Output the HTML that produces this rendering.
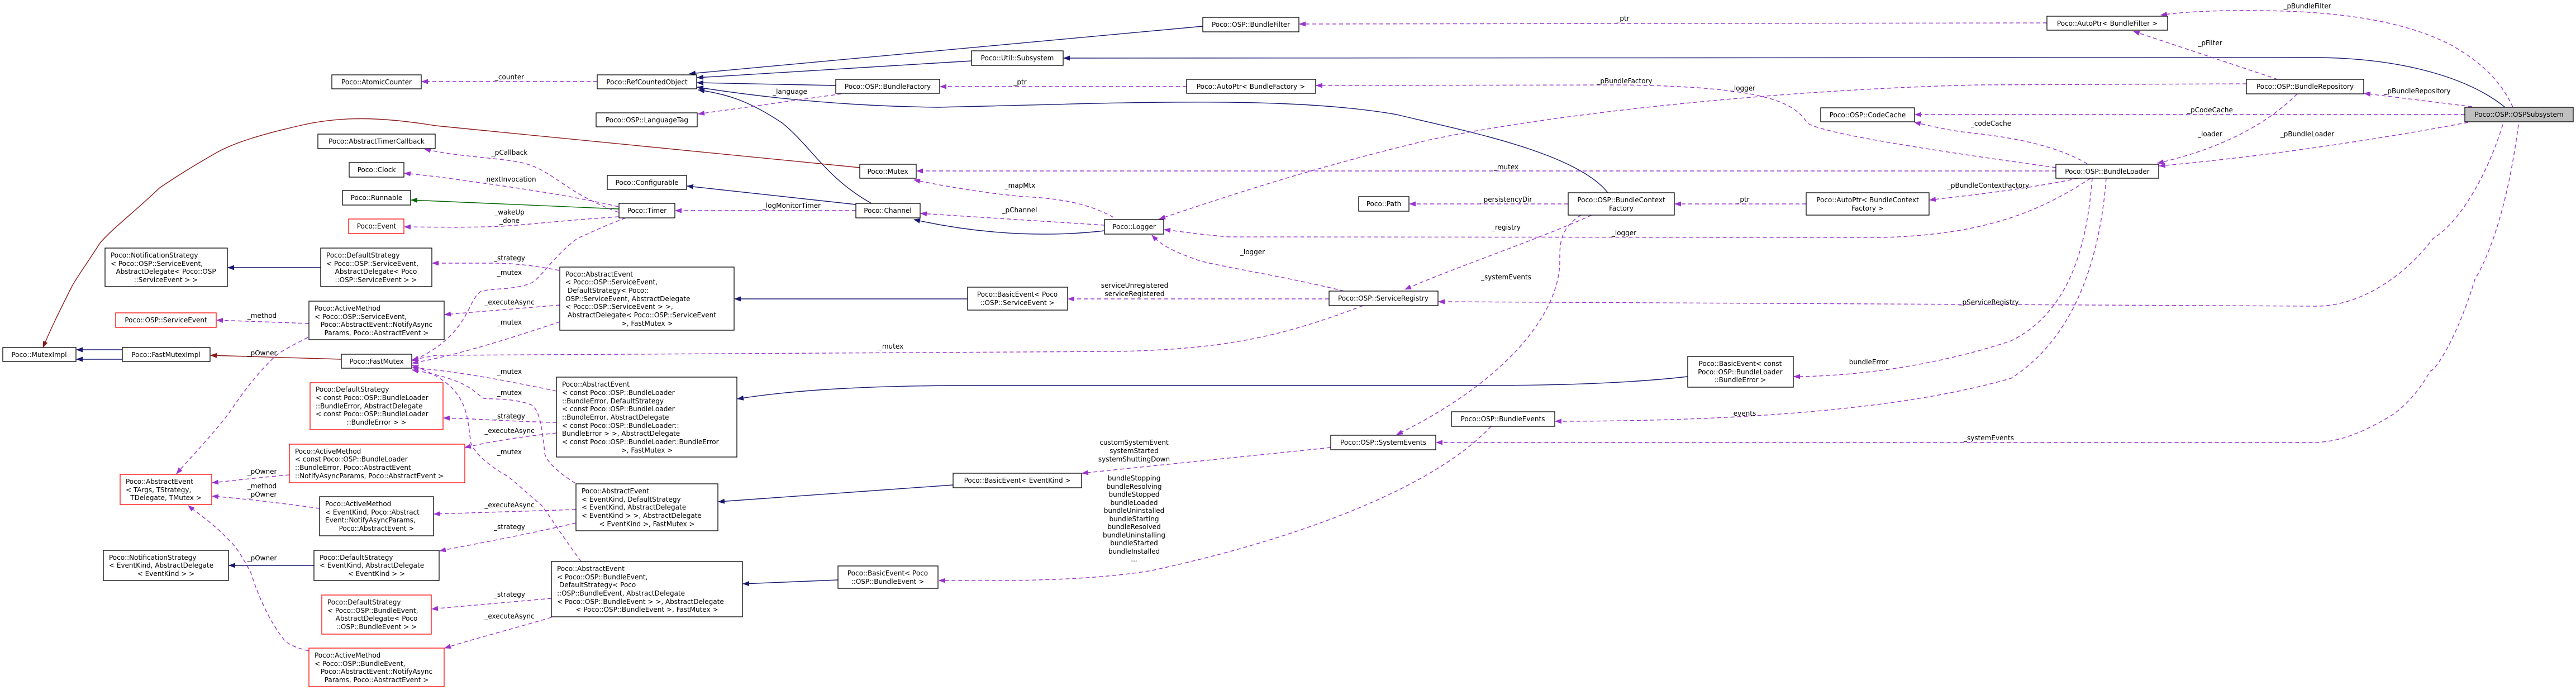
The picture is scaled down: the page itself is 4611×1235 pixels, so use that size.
<!DOCTYPE html>
<html><head><meta charset="utf-8">
<style>
html,body{margin:0;padding:0;background:#fff;}
svg{display:block;}
text{font-family:"DejaVu Sans","Liberation Sans",sans-serif;font-size:12px;fill:#000;}
.b{fill:#fff;stroke:#000;stroke-width:1.3;}
.r{fill:#fff;stroke:#ff0000;stroke-width:1.3;}
.g{fill:#bfbfbf;stroke:#000;stroke-width:1.3;}
.n{fill:none;stroke:#191970;stroke-width:1.4;}
.d{fill:none;stroke:#9a32cd;stroke-width:1.4;stroke-dasharray:7,5;}
.f{fill:none;stroke:#8b1a1a;stroke-width:1.4;}
.gr{fill:none;stroke:#006400;stroke-width:1.4;}
.m{text-anchor:middle;}
</style></head><body>
<svg width="4611" height="1235" viewBox="0 0 4611 1235" xmlns="http://www.w3.org/2000/svg">
<defs>
<marker id="an" markerWidth="12" markerHeight="9" refX="11" refY="4.5" orient="auto" markerUnits="userSpaceOnUse"><path d="M0,0 L12,4.5 L0,9 z" fill="#191970"/></marker>
<marker id="ap" markerWidth="12" markerHeight="9" refX="11" refY="4.5" orient="auto" markerUnits="userSpaceOnUse"><path d="M0,0 L12,4.5 L0,9 z" fill="#9a32cd"/></marker>
<marker id="ar" markerWidth="12" markerHeight="9" refX="11" refY="4.5" orient="auto" markerUnits="userSpaceOnUse"><path d="M0,0 L12,4.5 L0,9 z" fill="#8b1a1a"/></marker>
<marker id="ag" markerWidth="12" markerHeight="9" refX="11" refY="4.5" orient="auto" markerUnits="userSpaceOnUse"><path d="M0,0 L12,4.5 L0,9 z" fill="#006400"/></marker>
</defs>

<path class="n" marker-end="url(#an)" d="M2153,47 L1234,132"/>
<path class="n" marker-end="url(#an)" d="M1739,109 L1248,139"/>
<path class="n" marker-end="url(#an)" d="M1496,153 L1248,148"/>
<path class="n" marker-end="url(#an)" d="M2878,345 C2820,270 2600,230 2500,205 C2300,170 2000,185 1680,192 C1500,190 1350,172 1248,156"/>
<path class="n" marker-end="url(#an)" d="M1560,364 C1480,320 1450,260 1400,220 C1340,180 1300,168 1250,161"/>
<path class="n" marker-end="url(#an)" d="M1532,366 L1230,333"/>
<path class="n" marker-end="url(#an)" d="M1977,413 C1900,422 1780,425 1636,393"/>
<path class="n" marker-end="url(#an)" d="M4484,192 C4420,140 4300,103 4140,103 L1904,104"/>
<path class="n" marker-end="url(#an)" d="M1732,535 L1315,535"/>
<path class="n" marker-end="url(#an)" d="M1706,868 L1286,898"/>
<path class="n" marker-end="url(#an)" d="M3021,674 C2900,688 2750,690 2650,690 L1750,690 C1550,690 1420,698 1320,714"/>
<path class="n" marker-end="url(#an)" d="M1500,1038 L1330,1045"/>
<path class="n" marker-end="url(#an)" d="M574,479 L408,479"/>
<path class="n" marker-end="url(#an)" d="M562,1012 L410,1012"/>
<path class="n" marker-end="url(#an)" d="M219,626 L137,626"/>
<path class="n" marker-end="url(#an)" d="M219,643 L137,643"/>
<path class="gr" marker-end="url(#ag)" d="M1108,374 L736,358"/>
<path class="f" marker-end="url(#ar)" d="M1539,300 L780,225 C700,212 620,205 536,225 C470,240 420,255 388,273 C340,300 310,320 286,336 C240,380 200,410 179,435 C150,480 135,500 128,514 C105,560 90,590 77,622"/>
<path class="f" marker-end="url(#ar)" d="M611,643 L377,636"/>

<path class="d" marker-end="url(#ap)" d="M1069,146 L755,146"/>
<path class="d" marker-end="url(#ap)" d="M1506,168 L1250,204"/>
<path class="d" marker-end="url(#ap)" d="M2124,155 L1683,155"/>
<path class="d" marker-end="url(#ap)" d="M3664,41 L2326,43"/>
<path class="d" marker-end="url(#ap)" d="M1107,380 C1000,340 990,300 923,289 C880,282 820,280 760,267"/>
<path class="d" marker-end="url(#ap)" d="M1107,370 C1000,345 880,330 780,316 L724,310"/>
<path class="d" marker-end="url(#ap)" d="M1107,388 C1000,395 950,402 895,405 C860,407 800,407 724,406"/>
<path class="d" marker-end="url(#ap)" d="M1993,389 C1950,365 1900,355 1832,352 C1760,345 1700,335 1636,322"/>
<path class="d" marker-end="url(#ap)" d="M1977,403 L1648,382"/>
<path class="d" marker-end="url(#ap)" d="M1532,377 L1209,377"/>
<path class="d" marker-end="url(#ap)" d="M2406,521 C2300,495 2200,480 2148,467 C2100,450 2080,440 2062,421"/>
<path class="d" marker-end="url(#ap)" d="M3742,319 C3650,380 3550,420 3370,425 L2200,424 C2150,420 2110,414 2084,411"/>
<path class="d" marker-end="url(#ap)" d="M4021,150 L3540,152 C3200,160 2800,200 2560,250 C2350,300 2200,350 2075,392"/>
<path class="d" marker-end="url(#ap)" d="M3680,300 C3500,275 3260,240 3235,220 C3210,180 3150,155 2900,152 L2356,153"/>
<path class="d" marker-end="url(#ap)" d="M3736,293 C3680,260 3600,245 3520,237 C3480,232 3460,226 3427,219"/>
<path class="d" marker-end="url(#ap)" d="M4412,205 L3428,205"/>
<path class="d" marker-end="url(#ap)" d="M3680,306 L1641,306"/>
<path class="d" marker-end="url(#ap)" d="M2807,365 L2523,365"/>
<path class="d" marker-end="url(#ap)" d="M3233,365 L2998,365"/>
<path class="d" marker-end="url(#ap)" d="M3720,319 C3620,340 3520,350 3454,358"/>
<path class="d" marker-end="url(#ap)" d="M2849,385 C2750,430 2600,480 2515,518"/>
<path class="d" marker-end="url(#ap)" d="M2830,385 C2790,410 2792,440 2792,470 C2790,560 2700,680 2500,778"/>
<path class="d" marker-end="url(#ap)" d="M4480,223 C4450,320 4400,400 4355,427 C4300,500 4220,548 4146,548 L2575,540"/>
<path class="d" marker-end="url(#ap)" d="M4508,223 C4490,360 4460,450 4430,500 C4400,600 4360,664 4350,664 C4320,720 4280,744 4280,744 C4220,780 4180,792 4138,792 L2571,792"/>
<path class="d" marker-end="url(#ap)" d="M3745,319 C3735,450 3700,560 3600,610 C3450,660 3300,674 3211,674"/>
<path class="d" marker-end="url(#ap)" d="M3770,319 C3760,450 3720,600 3600,677 C3400,735 3100,754 2784,754"/>
<path class="d" marker-end="url(#ap)" d="M4498,192 C4470,130 4420,100 4390,82 C4320,45 4216,20 4042,19 C3960,18 3900,22 3868,27"/>
<path class="d" marker-end="url(#ap)" d="M4077,142 L3819,56"/>
<path class="d" marker-end="url(#ap)" d="M4425,191 L4232,167"/>
<path class="d" marker-end="url(#ap)" d="M4112,168 C4050,230 3960,270 3862,292"/>
<path class="d" marker-end="url(#ap)" d="M4418,219 C4200,260 4000,285 3865,297"/>
<path class="d" marker-end="url(#ap)" d="M2379,535 L1912,535"/>
<path class="d" marker-end="url(#ap)" d="M2382,801 C2200,820 2050,835 1937,847"/>
<path class="d" marker-end="url(#ap)" d="M2669,763 C2560,880 2300,970 2062,1021 C1950,1040 1800,1040 1681,1039"/>
<path class="d" marker-end="url(#ap)" d="M1001,484 C960,476 920,471 883,471 L774,471"/>
<path class="d" marker-end="url(#ap)" d="M1002,546 L796,563"/>
<path class="d" marker-end="url(#ap)" d="M1002,576 C900,610 820,635 738,650"/>
<path class="d" marker-end="url(#ap)" d="M1120,390 C1080,405 1060,415 1033,427 C990,460 970,495 952,506 C920,520 880,515 860,522 C835,540 840,600 738,646"/>
<path class="d" marker-end="url(#ap)" d="M2440,547 C2300,600 2200,625 2000,629 L780,636 L738,644"/>
<path class="d" marker-end="url(#ap)" d="M996,700 C900,680 820,665 738,658"/>
<path class="d" marker-end="url(#ap)" d="M1030,865 C990,840 975,820 975,810 C970,760 965,735 952,725 C920,712 880,715 866,713 C845,700 840,680 738,662"/>
<path class="d" marker-end="url(#ap)" d="M1040,1005 C1000,950 985,925 969,904 C940,880 920,860 906,851 C870,830 850,810 843,794 C835,740 840,690 738,654"/>
<path class="d" marker-end="url(#ap)" d="M996,756 C930,755 860,750 794,748"/>
<path class="d" marker-end="url(#ap)" d="M996,775 C930,782 880,790 832,801"/>
<path class="d" marker-end="url(#ap)" d="M1031,912 L777,920"/>
<path class="d" marker-end="url(#ap)" d="M1031,936 C950,955 870,970 787,986"/>
<path class="d" marker-end="url(#ap)" d="M987,1071 L773,1090"/>
<path class="d" marker-end="url(#ap)" d="M987,1105 C920,1125 860,1140 796,1160"/>
<path class="d" marker-end="url(#ap)" d="M553,579 L388,573"/>
<path class="d" marker-end="url(#ap)" d="M551,604 C520,620 500,630 490,640 C450,680 430,710 408,742 C370,790 340,820 316,848"/>
<path class="d" marker-end="url(#ap)" d="M518,850 C460,855 420,860 380,864"/>
<path class="d" marker-end="url(#ap)" d="M572,910 C500,900 440,893 380,888"/>
<path class="d" marker-end="url(#ap)" d="M553,1165 C530,1160 515,1152 510,1147 C480,1110 460,1060 449,1025 C430,990 420,975 408,965 C380,935 355,920 337,905"/>

<text x="912" y="142" class="m">_counter</text>
<text x="1414" y="168" class="m">_language</text>
<text x="1826" y="151" class="m">_ptr</text>
<text x="2905" y="37" class="m">_ptr</text>
<text x="912" y="277" class="m">_pCallback</text>
<text x="912" y="325" class="m">_nextInvocation</text>
<text x="912" y="384" class="m">_wakeUp</text>
<text x="912" y="399" class="m">_done</text>
<text x="1826" y="336" class="m">_mapMtx</text>
<text x="1825" y="380" class="m">_pChannel</text>
<text x="1417" y="372" class="m">_logMonitorTimer</text>
<text x="2242" y="455" class="m">_logger</text>
<text x="2907" y="421" class="m">_logger</text>
<text x="3120" y="162" class="m">_logger</text>
<text x="2908" y="149" class="m">_pBundleFactory</text>
<text x="3564" y="225" class="m">_codeCache</text>
<text x="3956" y="201" class="m">_pCodeCache</text>
<text x="2696" y="303" class="m">_mutex</text>
<text x="2696" y="361" class="m">_persistencyDir</text>
<text x="3120" y="361" class="m">_ptr</text>
<text x="3559" y="336" class="m">_pBundleContextFactory</text>
<text x="2696" y="411" class="m">_registry</text>
<text x="2696" y="500" class="m">_systemEvents</text>
<text x="3560" y="545" class="m">_pServiceRegistry</text>
<text x="3560" y="788" class="m">_systemEvents</text>
<text x="3345" y="652" class="m">bundleError</text>
<text x="3120" y="744" class="m">_events</text>
<text x="4130" y="15" class="m">_pBundleFilter</text>
<text x="3956" y="81" class="m">_pFilter</text>
<text x="4327" y="167" class="m">_pBundleRepository</text>
<text x="3956" y="244" class="m">_loader</text>
<text x="4130" y="244" class="m">_pBundleLoader</text>
<text x="2031" y="515" class="m">serviceUnregistered</text>
<text x="2031" y="530" class="m">serviceRegistered</text>
<text x="2030" y="796" class="m">customSystemEvent</text>
<text x="2030" y="811" class="m">systemStarted</text>
<text x="2030" y="826" class="m">systemShuttingDown</text>
<text x="2030" y="860" class="m">bundleStopping</text>
<text x="2030" y="875" class="m">bundleResolving</text>
<text x="2030" y="889" class="m">bundleStopped</text>
<text x="2030" y="904" class="m">bundleLoaded</text>
<text x="2030" y="918" class="m">bundleUninstalled</text>
<text x="2030" y="933" class="m">bundleStarting</text>
<text x="2030" y="947" class="m">bundleResolved</text>
<text x="2030" y="962" class="m">bundleUninstalling</text>
<text x="2030" y="976" class="m">bundleStarted</text>
<text x="2030" y="991" class="m">bundleInstalled</text>
<text x="2030" y="1005" class="m">...</text>
<text x="1595" y="624" class="m">_mutex</text>
<text x="912" y="466" class="m">_strategy</text>
<text x="912" y="492" class="m">_mutex</text>
<text x="912" y="545" class="m">_executeAsync</text>
<text x="912" y="581" class="m">_mutex</text>
<text x="912" y="669" class="m">_mutex</text>
<text x="912" y="707" class="m">_mutex</text>
<text x="912" y="749" class="m">_strategy</text>
<text x="912" y="775" class="m">_executeAsync</text>
<text x="912" y="813" class="m">_mutex</text>
<text x="912" y="908" class="m">_executeAsync</text>
<text x="912" y="947" class="m">_strategy</text>
<text x="912" y="1068" class="m">_strategy</text>
<text x="912" y="1107" class="m">_executeAsync</text>
<text x="469" y="569" class="m">_method</text>
<text x="469" y="636" class="m">_pOwner</text>
<text x="469" y="848" class="m">_pOwner</text>
<text x="469" y="874" class="m">_method</text>
<text x="469" y="889" class="m">_pOwner</text>
<text x="469" y="1003" class="m">_pOwner</text>

<rect class="b" x="594" y="134" width="160" height="25"/><text x="674" y="151" class="m">Poco::AtomicCounter</text>
<rect class="b" x="569" y="240" width="210" height="26"/><text x="674" y="257" class="m">Poco::AbstractTimerCallback</text>
<rect class="b" x="625" y="291" width="98" height="26"/><text x="674" y="308" class="m">Poco::Clock</text>
<rect class="b" x="613" y="341" width="122" height="26"/><text x="674" y="358" class="m">Poco::Runnable</text>
<rect class="r" x="624" y="392" width="99" height="26"/><text x="674" y="409" class="m">Poco::Event</text>

<rect class="b" x="188" y="444" width="219" height="69"/>
<text x="198" y="461">Poco::NotificationStrategy</text><text x="198" y="476">&lt; Poco::OSP::ServiceEvent,</text><text x="297" y="490" class="m">AbstractDelegate&lt; Poco::OSP</text><text x="297" y="505" class="m">::ServiceEvent &gt; &gt;</text>
<rect class="b" x="574" y="444" width="199" height="69"/>
<text x="584" y="461">Poco::DefaultStrategy</text><text x="584" y="476">&lt; Poco::OSP::ServiceEvent,</text><text x="673" y="490" class="m">AbstractDelegate&lt; Poco</text><text x="673" y="505" class="m">::OSP::ServiceEvent &gt; &gt;</text>
<rect class="r" x="207" y="560" width="180" height="26"/><text x="297" y="577" class="m">Poco::OSP::ServiceEvent</text>
<rect class="b" x="553" y="539" width="242" height="69"/>
<text x="563" y="556">Poco::ActiveMethod</text><text x="563" y="571">&lt; Poco::OSP::ServiceEvent,</text><text x="674" y="585" class="m">Poco::AbstractEvent::NotifyAsync</text><text x="674" y="600" class="m">Params, Poco::AbstractEvent &gt;</text>

<rect class="b" x="5" y="622" width="131" height="25"/><text x="70" y="639" class="m">Poco::MutexImpl</text>
<rect class="b" x="219" y="622" width="157" height="25"/><text x="297" y="639" class="m">Poco::FastMutexImpl</text>
<rect class="b" x="611" y="634" width="126" height="25"/><text x="674" y="651" class="m">Poco::FastMutex</text>

<rect class="r" x="555" y="685" width="238" height="84"/>
<text x="565" y="701">Poco::DefaultStrategy</text><text x="565" y="716">&lt; const Poco::OSP::BundleLoader</text><text x="565" y="731">::BundleError, AbstractDelegate</text><text x="565" y="745">&lt; const Poco::OSP::BundleLoader</text><text x="674" y="760" class="m">::BundleError &gt; &gt;</text>
<rect class="r" x="518" y="795" width="314" height="69"/>
<text x="528" y="812">Poco::ActiveMethod</text><text x="528" y="826">&lt; const Poco::OSP::BundleLoader</text><text x="528" y="841">::BundleError, Poco::AbstractEvent</text><text x="528" y="856">::NotifyAsyncParams, Poco::AbstractEvent &gt;</text>
<rect class="r" x="215" y="849" width="164" height="54"/>
<text x="225" y="866">Poco::AbstractEvent</text><text x="225" y="881">&lt; TArgs, TStrategy,</text><text x="297" y="895" class="m">TDelegate, TMutex &gt;</text>
<rect class="b" x="572" y="889" width="204" height="70"/>
<text x="582" y="906">Poco::ActiveMethod</text><text x="582" y="921">&lt; EventKind, Poco::Abstract</text><text x="582" y="935">Event::NotifyAsyncParams,</text><text x="674" y="950" class="m">Poco::AbstractEvent &gt;</text>
<rect class="b" x="185" y="985" width="224" height="54"/>
<text x="195" y="1002">Poco::NotificationStrategy</text><text x="195" y="1016">&lt; EventKind, AbstractDelegate</text><text x="297" y="1031" class="m">&lt; EventKind &gt; &gt;</text>
<rect class="b" x="562" y="985" width="224" height="54"/>
<text x="572" y="1002">Poco::DefaultStrategy</text><text x="572" y="1016">&lt; EventKind, AbstractDelegate</text><text x="674" y="1031" class="m">&lt; EventKind &gt; &gt;</text>
<rect class="r" x="576" y="1065" width="196" height="70"/>
<text x="586" y="1082">Poco::DefaultStrategy</text><text x="586" y="1097">&lt; Poco::OSP::BundleEvent,</text><text x="674" y="1111" class="m">AbstractDelegate&lt; Poco</text><text x="674" y="1126" class="m">::OSP::BundleEvent &gt; &gt;</text>
<rect class="r" x="553" y="1160" width="242" height="69"/>
<text x="563" y="1177">Poco::ActiveMethod</text><text x="563" y="1192">&lt; Poco::OSP::BundleEvent,</text><text x="674" y="1206" class="m">Poco::AbstractEvent::NotifyAsync</text><text x="674" y="1221" class="m">Params, Poco::AbstractEvent &gt;</text>

<rect class="b" x="1069" y="134" width="178" height="25"/><text x="1158" y="151" class="m">Poco::RefCountedObject</text>
<rect class="b" x="1067" y="202" width="181" height="25"/><text x="1158" y="219" class="m">Poco::OSP::LanguageTag</text>
<rect class="b" x="1496" y="142" width="186" height="25"/><text x="1589" y="159" class="m">Poco::OSP::BundleFactory</text>
<rect class="b" x="1539" y="294" width="101" height="25"/><text x="1589" y="311" class="m">Poco::Mutex</text>
<rect class="b" x="1087" y="314" width="142" height="25"/><text x="1158" y="331" class="m">Poco::Configurable</text>
<rect class="b" x="1108" y="364" width="100" height="26"/><text x="1158" y="381" class="m">Poco::Timer</text>
<rect class="b" x="1532" y="364" width="115" height="26"/><text x="1589" y="381" class="m">Poco::Channel</text>

<rect class="b" x="1002" y="478" width="312" height="113"/>
<text x="1012" y="495">Poco::AbstractEvent</text><text x="1012" y="509">&lt; Poco::OSP::ServiceEvent,</text><text x="1016" y="524">DefaultStrategy&lt; Poco::</text><text x="1012" y="539">OSP::ServiceEvent, AbstractDelegate</text><text x="1012" y="553">&lt; Poco::OSP::ServiceEvent &gt; &gt;,</text><text x="1016" y="568">AbstractDelegate&lt; Poco::OSP::ServiceEvent</text><text x="1158" y="583" class="m">&gt;, FastMutex &gt;</text>
<rect class="b" x="996" y="675" width="323" height="143"/>
<text x="1006" y="692">Poco::AbstractEvent</text><text x="1006" y="707">&lt; const Poco::OSP::BundleLoader</text><text x="1006" y="722">::BundleError, DefaultStrategy</text><text x="1006" y="736">&lt; const Poco::OSP::BundleLoader</text><text x="1006" y="751">::BundleError, AbstractDelegate</text><text x="1006" y="766">&lt; const Poco::OSP::BundleLoader::</text><text x="1006" y="780">BundleError &gt; &gt;, AbstractDelegate</text><text x="1006" y="795">&lt; const Poco::OSP::BundleLoader::BundleError</text><text x="1158" y="810" class="m">&gt;, FastMutex &gt;</text>
<rect class="b" x="1031" y="866" width="254" height="84"/>
<text x="1041" y="883">Poco::AbstractEvent</text><text x="1041" y="898">&lt; EventKind, DefaultStrategy</text><text x="1041" y="912">&lt; EventKind, AbstractDelegate</text><text x="1041" y="927">&lt; EventKind &gt; &gt;, AbstractDelegate</text><text x="1158" y="942" class="m">&lt; EventKind &gt;, FastMutex &gt;</text>
<rect class="b" x="987" y="1005" width="342" height="99"/>
<text x="997" y="1022">Poco::AbstractEvent</text><text x="997" y="1037">&lt; Poco::OSP::BundleEvent,</text><text x="1001" y="1051">DefaultStrategy&lt; Poco</text><text x="997" y="1066">::OSP::BundleEvent, AbstractDelegate</text><text x="997" y="1081">&lt; Poco::OSP::BundleEvent &gt; &gt;, AbstractDelegate</text><text x="1158" y="1095" class="m">&lt; Poco::OSP::BundleEvent &gt;, FastMutex &gt;</text>
<rect class="b" x="1500" y="1013" width="179" height="40"/>
<text x="1589" y="1030" class="m">Poco::BasicEvent&lt; Poco</text><text x="1589" y="1045" class="m">::OSP::BundleEvent &gt;</text>

<rect class="b" x="2153" y="31" width="172" height="26"/><text x="2239" y="48" class="m">Poco::OSP::BundleFilter</text>
<rect class="b" x="1739" y="91" width="164" height="26"/><text x="1821" y="108" class="m">Poco::Util::Subsystem</text>
<rect class="b" x="2124" y="142" width="231" height="25"/><text x="2239" y="159" class="m">Poco::AutoPtr&lt; BundleFactory &gt;</text>
<rect class="b" x="2432" y="352" width="90" height="26"/><text x="2477" y="369" class="m">Poco::Path</text>
<rect class="b" x="1977" y="393" width="106" height="26"/><text x="2030" y="410" class="m">Poco::Logger</text>
<rect class="b" x="1732" y="514" width="179" height="41"/>
<text x="1821" y="531" class="m">Poco::BasicEvent&lt; Poco</text><text x="1821" y="546" class="m">::OSP::ServiceEvent &gt;</text>
<rect class="b" x="2379" y="521" width="195" height="26"/><text x="2476" y="538" class="m">Poco::OSP::ServiceRegistry</text>
<rect class="b" x="2382" y="779" width="188" height="26"/><text x="2476" y="796" class="m">Poco::OSP::SystemEvents</text>
<rect class="b" x="1706" y="847" width="230" height="26"/><text x="1821" y="864" class="m">Poco::BasicEvent&lt; EventKind &gt;</text>
<rect class="b" x="2598" y="737" width="185" height="26"/><text x="2690" y="754" class="m">Poco::OSP::BundleEvents</text>

<rect class="b" x="3259" y="193" width="168" height="25"/><text x="3343" y="210" class="m">Poco::OSP::CodeCache</text>
<rect class="b" x="2807" y="345" width="190" height="40"/>
<text x="2902" y="362" class="m">Poco::OSP::BundleContext</text><text x="2902" y="377" class="m">Factory</text>
<rect class="b" x="3233" y="345" width="220" height="40"/>
<text x="3343" y="362" class="m">Poco::AutoPtr&lt; BundleContext</text><text x="3343" y="377" class="m">Factory &gt;</text>
<rect class="b" x="3021" y="638" width="189" height="55"/>
<text x="3115" y="655" class="m">Poco::BasicEvent&lt; const</text><text x="3115" y="670" class="m">Poco::OSP::BundleLoader</text><text x="3115" y="684" class="m">::BundleError &gt;</text>

<rect class="b" x="3664" y="29" width="216" height="25"/><text x="3772" y="46" class="m">Poco::AutoPtr&lt; BundleFilter &gt;</text>
<rect class="b" x="4021" y="142" width="210" height="26"/><text x="4126" y="159" class="m">Poco::OSP::BundleRepository</text>
<rect class="b" x="3680" y="294" width="184" height="25"/><text x="3772" y="311" class="m">Poco::OSP::BundleLoader</text>
<rect class="g" x="4412" y="192" width="194" height="26"/><text x="4509" y="209" class="m">Poco::OSP::OSPSubsystem</text>
</svg>
</body></html>
